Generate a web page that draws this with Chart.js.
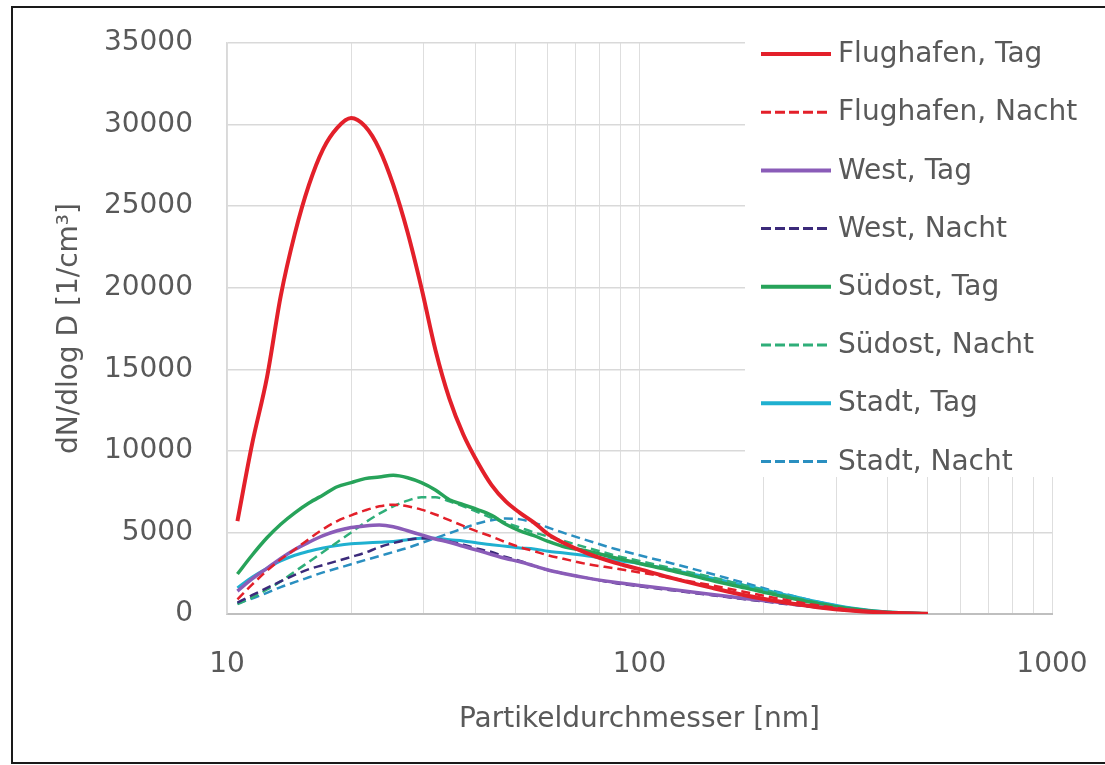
<!DOCTYPE html>
<html>
<head>
<meta charset="utf-8">
<script src="https://cdn.jsdelivr.net/npm/chart.js@4.4.1/dist/chart.umd.min.js"></script>
<style>
  html, body { margin: 0; padding: 0; background: #fff; }
  #wrap { position: relative; width: 1105px; height: 765px; }
</style>
</head>
<body>
<div id="wrap"><canvas id="c"></canvas></div>
<script>
// ---- data ----
const diameters = [10.6, 11.5, 12.5, 13.5, 14.6, 15.8, 17.1, 18.5, 20.0, 21.6, 23.4, 25.3, 27.4, 29.6, 32.0, 34.6, 37.4, 40.5, 43.8, 47.4, 51.3, 55.5, 60, 65, 75, 87, 100, 120, 150, 180, 220, 270, 330, 400, 500];

const flughafenTag   = [5700, 10400, 14500, 19500, 23300, 26300, 28500, 29800, 30400, 29900, 28500, 26300, 23400, 20000, 16200, 13200, 11000, 9300, 7900, 6900, 6200, 5600, 4900, 4400, 3700, 3150, 2750, 2200, 1600, 1150, 750, 420, 200, 80, 20];
const flughafenNacht = [900, 1800, 2650, 3350, 3950, 4600, 5200, 5700, 6050, 6350, 6600, 6700, 6600, 6400, 6100, 5750, 5400, 5050, 4750, 4400, 4100, 3850, 3600, 3400, 3050, 2800, 2550, 2200, 1750, 1350, 920, 530, 240, 90, 20];
const westTag        = [1400, 2150, 2800, 3400, 3950, 4400, 4800, 5100, 5300, 5400, 5450, 5350, 5100, 4850, 4600, 4400, 4150, 3900, 3650, 3400, 3200, 2950, 2700, 2500, 2200, 1950, 1750, 1500, 1200, 950, 700, 450, 220, 80, 20];
const westNacht      = [700, 1150, 1600, 2000, 2400, 2750, 3000, 3250, 3500, 3750, 4100, 4350, 4550, 4650, 4600, 4450, 4250, 4000, 3800, 3500, 3250, 2950, 2700, 2500, 2200, 1900, 1700, 1450, 1150, 900, 650, 400, 200, 70, 15];
const suedostTag     = [2450, 3600, 4670, 5500, 6200, 6800, 7300, 7800, 8050, 8300, 8400, 8500, 8350, 8050, 7600, 7000, 6700, 6400, 6050, 5500, 5100, 4800, 4450, 4150, 3850, 3450, 3100, 2650, 2050, 1600, 1100, 650, 300, 100, 20];
const suedostNacht   = [600, 1000, 1500, 2000, 2600, 3200, 3800, 4400, 5000, 5600, 6150, 6600, 6950, 7150, 7150, 6900, 6600, 6250, 5900, 5600, 5300, 5000, 4750, 4500, 4050, 3600, 3250, 2800, 2250, 1750, 1200, 700, 320, 110, 25];
const stadtTag       = [1600, 2250, 2800, 3250, 3600, 3850, 4050, 4200, 4300, 4350, 4400, 4450, 4550, 4650, 4650, 4550, 4480, 4350, 4250, 4150, 4050, 3990, 3850, 3750, 3550, 3300, 3100, 2700, 2200, 1750, 1250, 750, 350, 120, 30];
const stadtNacht     = [650, 950, 1300, 1650, 1950, 2250, 2550, 2800, 3050, 3300, 3550, 3800, 4050, 4350, 4650, 4950, 5250, 5550, 5750, 5850, 5800, 5600, 5300, 5000, 4500, 4000, 3600, 3100, 2450, 1900, 1300, 750, 330, 110, 25];

const seriesLabels = ['Flughafen, Tag', 'Flughafen, Nacht', 'West, Tag', 'West, Nacht', 'Südost, Tag', 'Südost, Nacht', 'Stadt, Tag', 'Stadt, Nacht'];
const xTickValues = [10, 20, 30, 40, 50, 60, 70, 80, 90, 100, 200, 300, 400, 500, 600, 700, 800, 900, 1000];
const xTickLabels = [10, 100, 1000];
const yMin = 0, yMax = 35000, yStep = 5000;

// ---- styling ----
const FONT = '"DejaVu Sans", sans-serif';
const TEXT = '#595959';
const styles = [
  { color: '#e3202a', width: 4,   dash: [] },
  { color: '#e3202a', width: 2.5, dash: [9, 5] },
  { color: '#8a5cb8', width: 3.5, dash: [] },
  { color: '#3b2a7a', width: 2.5, dash: [9, 5] },
  { color: '#27a35a', width: 3.5, dash: [] },
  { color: '#2fae79', width: 2.5, dash: [9, 5] },
  { color: '#1fb0d0', width: 3,   dash: [] },
  { color: '#2a8fc0', width: 2.5, dash: [9, 5] }
];
const seriesValues = [flughafenTag, flughafenNacht, westTag, westNacht, suedostTag, suedostNacht, stadtTag, stadtNacht];

const datasets = seriesValues.map((vals, i) => ({
  label: seriesLabels[i],
  data: diameters.map((d, j) => ({ x: d, y: vals[j] })),
  borderColor: styles[i].color,
  backgroundColor: styles[i].color,
  borderWidth: styles[i].width,
  borderDash: styles[i].dash,
  pointRadius: 0,
  fill: false,
  cubicInterpolationMode: 'monotone'
}));

const boxLegend = {
  id: 'boxLegend',
  beforeDatasetsDraw(chart) {
    const ctx = chart.ctx;
    ctx.save();
    ctx.fillStyle = '#ffffff';
    ctx.fillRect(745, 24, 362, 453);
    ctx.font = '28px ' + FONT;
    ctx.textBaseline = 'middle';
    ctx.textAlign = 'left';
    chart.data.datasets.forEach((ds, i) => {
      const y = 54 + i * 58.2;
      ctx.strokeStyle = ds.borderColor;
      ctx.lineWidth = ds.borderDash.length ? 3 : 4;
      ctx.setLineDash(ds.borderDash.length ? [10, 4] : []);
      ctx.beginPath();
      ctx.moveTo(761, y);
      ctx.lineTo(831, y);
      ctx.stroke();
      ctx.setLineDash([]);
      ctx.fillStyle = TEXT;
      ctx.fillText(ds.label, 838, y + 1);
    });
    ctx.restore();
  },
  afterDraw(chart) {
    const ctx = chart.ctx;
    ctx.save();
    ctx.strokeStyle = '#1a1a1a';
    ctx.lineWidth = 2;
    ctx.strokeRect(12, 7, 1200, 756);
    ctx.restore();
  }
};

new Chart(document.getElementById('c'), {
  type: 'line',
  data: { datasets },
  plugins: [boxLegend],
  options: {
    responsive: true,
    maintainAspectRatio: false,
    animation: false,
    layout: { padding: { left: 0, top: 43, right: 53, bottom: 0 } },
    plugins: { legend: { display: false }, tooltip: { enabled: false } },
    scales: {
      x: {
        type: 'logarithmic',
        min: 10,
        max: 1000,
        afterBuildTicks: (scale) => { scale.ticks = xTickValues.map(v => ({ value: v })); },
        afterFit: (scale) => { scale.height = 151; scale.paddingLeft = 0; scale.paddingRight = 0; },
        ticks: {
          autoSkip: false,
          maxRotation: 0,
          padding: 34,
          color: TEXT,
          font: { family: FONT, size: 28 },
          callback: (v) => xTickLabels.includes(v) ? String(v) : ''
        },
        grid: { color: '#dedede', lineWidth: 1, drawTicks: false },
        border: { color: '#bfbfbf', width: 2 },
        title: {
          display: true,
          text: 'Partikeldurchmesser [nm]',
          color: TEXT,
          font: { family: FONT, size: 28 },
          padding: { top: 0, bottom: 28 }
        }
      },
      y: {
        min: yMin,
        max: yMax,
        afterFit: (scale) => { scale.width = 227; scale.paddingTop = 0; scale.paddingBottom = 0; },
        ticks: {
          stepSize: yStep,
          padding: 34,
          color: TEXT,
          font: { family: FONT, size: 28 },
          callback: (v) => String(v)
        },
        grid: { color: '#d9d9d9', lineWidth: 1.5, drawTicks: false },
        border: { color: '#d9d9d9', width: 1.5 },
        title: {
          display: true,
          text: 'dN/dlog D [1/cm³]',
          color: TEXT,
          font: { family: FONT, size: 28 },
          padding: { top: 53, bottom: 0 }
        }
      }
    }
  }
});
</script>
</body>
</html>
